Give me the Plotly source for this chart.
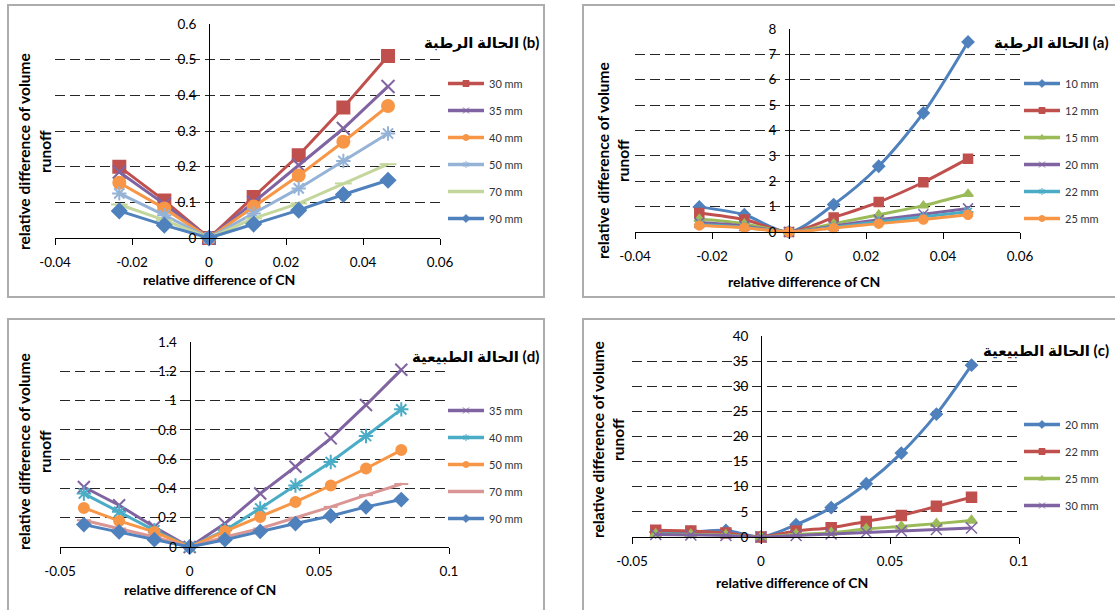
import plotly.graph_objects as go

# ---------------- data ----------------
# panel (b) wet condition
b_x = [-0.0233, -0.0116, 0, 0.0116, 0.0233, 0.0349, 0.0465]
b_names = ["30 mm", "35 mm", "40 mm", "50 mm", "70 mm", "90 mm"]
b_30 = [0.20, 0.105, 0, 0.115, 0.232, 0.366, 0.51]
b_35 = [0.185, 0.095, 0, 0.10, 0.204, 0.307, 0.425]
b_40 = [0.155, 0.083, 0, 0.088, 0.175, 0.27, 0.37]
b_50 = [0.125, 0.064, 0, 0.069, 0.139, 0.216, 0.293]
b_70 = [0.094, 0.05, 0, 0.055, 0.097, 0.153, 0.207]
b_90 = [0.076, 0.036, 0, 0.039, 0.078, 0.122, 0.162]

# panel (a) wet condition
a_x = [-0.0233, -0.0116, 0, 0.0116, 0.0233, 0.0349, 0.0465]
a_names = ["10 mm", "12 mm", "15 mm", "20 mm", "22 mm", "25 mm"]
a_10 = [0.99, 0.68, 0, 1.08, 2.59, 4.69, 7.49]
a_12 = [0.75, 0.49, 0, 0.57, 1.18, 1.96, 2.89]
a_15 = [0.51, 0.33, 0, 0.33, 0.68, 1.04, 1.5]
a_20 = [0.37, 0.24, 0, 0.24, 0.48, 0.7, 0.93]
a_22 = [0.3, 0.19, 0, 0.19, 0.4, 0.6, 0.8]
a_25 = [0.26, 0.17, 0, 0.16, 0.33, 0.49, 0.68]

# panel (d) natural condition
d_x = [-0.0408, -0.0272, -0.0136, 0, 0.0136, 0.0272, 0.0408, 0.0544, 0.068, 0.0816]
d_names = ["35 mm", "40 mm", "50 mm", "70 mm", "90 mm"]
d_35 = [0.41, 0.285, 0.137, 0, 0.16, 0.365, 0.548, 0.742, 0.97, 1.21]
d_40 = [0.365, 0.24, 0.114, 0, 0.114, 0.263, 0.42, 0.58, 0.758, 0.94]
d_50 = [0.267, 0.178, 0.103, 0, 0.107, 0.205, 0.308, 0.42, 0.536, 0.662]
d_70 = [0.183, 0.126, 0.068, 0, 0.068, 0.126, 0.2, 0.274, 0.354, 0.43]
d_90 = [0.153, 0.103, 0.05, 0, 0.05, 0.107, 0.16, 0.212, 0.274, 0.324]

# panel (c) natural condition
c_x = [-0.0408, -0.0272, -0.0136, 0, 0.0136, 0.0272, 0.0408, 0.0544, 0.068, 0.0816]
c_names = ["20 mm", "22 mm", "25 mm", "30 mm"]
c_20 = [1.0, 1.0, 1.3, 0, 2.46, 5.85, 10.6, 16.7, 24.45, 34.2]
c_22 = [1.33, 1.2, 0.8, 0, 1.2, 1.86, 3.1, 4.3, 6.1, 7.9]
c_25 = [0.6, 0.5, 0.4, 0, 0.53, 0.86, 1.6, 2.1, 2.66, 3.3]
c_30 = [0.5, 0.4, 0.3, 0, 0.3, 0.6, 0.9, 1.2, 1.5, 1.8]

# tick labels
bx_ticks = [-0.04, -0.02, 0, 0.02, 0.04, 0.06]
bx_text = ["-0.04", "-0.02", "0", "0.02", "0.04", "0.06"]
by_ticks = [0, 0.1, 0.2, 0.3, 0.4, 0.5, 0.6]
by_text = ["0", "0.1", "0.2", "0.3", "0.4", "0.5", "0.6"]
ay_ticks = [0, 1, 2, 3, 4, 5, 6, 7, 8]
ay_text = ["0", "1", "2", "3", "4", "5", "6", "7", "8"]
dx_ticks = [-0.05, 0, 0.05, 0.1]
dx_text = ["-0.05", "0", "0.05", "0.1"]
dy_ticks = [0, 0.2, 0.4, 0.6, 0.8, 1.0, 1.2, 1.4]
dy_text = ["0", "0.2", "0.4", "0.6", "0.8", "1", "1.2", "1.4"]
cy_ticks = [0, 5, 10, 15, 20, 25, 30, 35, 40]
cy_text = ["0", "5", "10", "15", "20", "25", "30", "35", "40"]

titles = ["الحالة الرطبة (b)", "الحالة الرطبة (a)", "الحالة الطبيعية (d)", "الحالة الطبيعية (c)"]
x_title = "relative difference of CN"
y_title1 = "relative difference of volume"
y_title2 = "runoff"

# ---------------- styling ----------------
W, H = 1115, 610
FONT = "Lato, 'DejaVu Sans', sans-serif"
BLUE, RED, GREEN, PURPLE, TEAL, ORANGE = "#4F81BD", "#C0504D", "#9BBB59", "#8064A2", "#4BACC6", "#F79646"
LBLUE, LGREEN, PINK = "#95B3D7", "#C3D69B", "#D99694"


def px_x(p):
    return p / W


def px_y(p):
    return 1 - p / H


# plot-area pixel boxes: (left, right, top, bottom)
boxes = {
    "1": (55, 440, 24, 238),
    "2": (635, 1020, 29, 232),
    "3": (60, 449, 342, 547),
    "4": (632, 1019, 336, 537),
}
ranges = {
    "1": ([-0.04, 0.06], [0, 0.6]),
    "2": ([-0.04, 0.06], [0, 8]),
    "3": ([-0.05, 0.1], [0, 1.4]),
    "4": ([-0.05, 0.1], [0, 40]),
}
ticks = {
    "1": (bx_ticks, bx_text, by_ticks, by_text),
    "2": (bx_ticks, bx_text, ay_ticks, ay_text),
    "3": (dx_ticks, dx_text, dy_ticks, dy_text),
    "4": (dx_ticks, dx_text, cy_ticks, cy_text),
}

fig = go.Figure()


def add(k, xs, ys, name, color, symbol, size, spline=False, mlw=1.5):
    sfx = "" if k == "1" else k
    fig.add_trace(go.Scatter(
        x=xs, y=ys, name=name, mode="lines+markers",
        xaxis="x" + sfx, yaxis="y" + sfx, showlegend=False,
        line=dict(color=color, width=3, shape="spline" if spline else "linear", smoothing=0.8),
        marker=dict(symbol=symbol, size=size, color=color, line=dict(color=color, width=mlw)),
        cliponaxis=False,
    ))
    # legend entry with a small marker, as in the original legend
    fig.add_trace(go.Scatter(
        x=[None], y=[None], name=name, mode="lines+markers",
        xaxis="x" + sfx, yaxis="y" + sfx, showlegend=True,
        legend="legend" + sfx, legendgroup=k + name,
        line=dict(color=color, width=3.5),
        marker=dict(symbol=symbol, size=6, color=color, line=dict(color=color, width=1)),
    ))


# panel b
b_series = [b_30, b_35, b_40, b_50, b_70, b_90]
b_style = [(RED, "square", 12), (PURPLE, "x-thin", 13), (ORANGE, "circle", 12),
           (LBLUE, "asterisk", 12), (LGREEN, "line-ew", 12), (BLUE, "diamond", 11)]
for ys, nm, (c, s, z) in zip(b_series, b_names, b_style):
    add("1", b_x, ys, nm, c, s, z, mlw=2)

# panel a
a_series = [a_10, a_12, a_15, a_20, a_22, a_25]
a_style = [(BLUE, "diamond", 9), (RED, "square", 9), (GREEN, "triangle-up", 9),
           (PURPLE, "x-thin", 10), (TEAL, "asterisk", 9), (ORANGE, "circle", 9)]
for ys, nm, (c, s, z) in zip(a_series, a_names, a_style):
    add("2", a_x, ys, nm, c, s, z, spline=True)

# panel d
d_series = [d_35, d_40, d_50, d_70, d_90]
d_style = [(PURPLE, "x-thin", 12), (TEAL, "asterisk", 12), (ORANGE, "circle", 10),
           (PINK, "line-ew", 10), (BLUE, "diamond", 10)]
for ys, nm, (c, s, z) in zip(d_series, d_names, d_style):
    add("3", d_x, ys, nm, c, s, z, mlw=2)

# panel c
c_series = [c_20, c_22, c_25, c_30]
c_style = [(BLUE, "diamond", 9), (RED, "square", 10), (GREEN, "triangle-up", 10), (PURPLE, "x-thin", 11)]
for ys, nm, (c, s, z) in zip(c_series, c_names, c_style):
    add("4", c_x, ys, nm, c, s, z, spline=True)

layout = dict(
    width=W, height=H, margin=dict(l=0, r=0, t=0, b=0, autoexpand=False),
    paper_bgcolor="white", plot_bgcolor="white",
    font=dict(family=FONT, size=13, color="#000000"),
    showlegend=True,
)

legend_pos = {"1": (443, 69), "2": (1019, 69), "3": (443, 396), "4": (1019, 410)}
annotations = []
for k in ["1", "2", "3", "4"]:
    sfx = "" if k == "1" else k
    l, r, t, b = boxes[k]
    xr, yr = ranges[k]
    xt, xtt, yt, ytt = ticks[k]
    xdom = [px_x(l), px_x(r)]
    ydom = [px_y(b), px_y(t)]
    ypos = xdom[0] + (0 - xr[0]) / (xr[1] - xr[0]) * (xdom[1] - xdom[0])
    layout["xaxis" + sfx] = dict(
        domain=xdom, range=xr, anchor="y" + sfx, showgrid=False, zeroline=False,
        showline=True, linecolor="#000000", linewidth=1, automargin=False,
        ticks="outside", ticklen=6, tickcolor="#000000", tickwidth=1,
        tickvals=xt, ticktext=xtt, tickfont=dict(size=13.5, color="#000000"),
        ticklabelstandoff=6,
    )
    layout["yaxis" + sfx] = dict(
        domain=ydom, range=yr, anchor="free", position=ypos, automargin=False,
        showgrid=True, gridcolor="#262626", gridwidth=1.4, griddash="10px,5px",
        zeroline=False, showline=True, linecolor="#000000", linewidth=1,
        ticks="", tickvals=yt, ticktext=ytt, tickfont=dict(size=13.5, color="#000000"),
        ticklabelstandoff=10,
    )
    lx, ly = legend_pos[k]
    layout["legend" + sfx] = dict(
        x=px_x(lx), y=px_y(ly), xanchor="left", yanchor="top",
        bgcolor="rgba(0,0,0,0)", font=dict(size=11, color="#333333", family=FONT),
        traceorder="grouped", tracegroupgap=8, itemwidth=36,
    )

# titles
title_pos = [(541, 42), (1111, 42), (541, 356), (1111, 350)]
for txt, (tx, ty) in zip(titles, title_pos):
    annotations.append(dict(
        text="<b>" + txt + "</b>", x=px_x(tx), y=px_y(ty), xref="paper", yref="paper",
        xanchor="right", yanchor="middle", showarrow=False,
        font=dict(size=15, family=FONT, color="#000000"),
    ))

# axis titles
xt_pos = [(219, 279), (804, 281), (200, 589), (792, 582)]
yt_pos = [(24, 45, 152), (603, 623, 161), (24, 45, 452), (598, 618, 440)]
for (tx, ty) in xt_pos:
    annotations.append(dict(
        text="<b>" + x_title + "</b>", x=px_x(tx), y=px_y(ty), xref="paper", yref="paper",
        xanchor="center", yanchor="middle", showarrow=False,
        font=dict(size=14, family=FONT, color="#000000"),
    ))
for (x1, x2, yc) in yt_pos:
    for txt, xx in ((y_title1, x1), (y_title2, x2)):
        annotations.append(dict(
            text="<b>" + txt + "</b>", x=px_x(xx), y=px_y(yc), xref="paper", yref="paper",
            xanchor="center", yanchor="middle", showarrow=False, textangle=-90,
            font=dict(size=15.5, family=FONT, color="#000000"),
        ))
layout["annotations"] = annotations

# panel frames
frames = [(8, 544, 5, 297), (583, 1116, 5, 297), (8, 544, 319, 612), (583, 1116, 319, 612)]
layout["shapes"] = [
    dict(type="rect", xref="paper", yref="paper",
         x0=px_x(x0), x1=px_x(x1), y0=px_y(y1), y1=px_y(y0),
         line=dict(color="#ADADAD", width=2), layer="below")
    for (x0, x1, y0, y1) in frames
]

fig.update_layout(**layout)
fig.write_html("out.html", config={"displayModeBar": False},
               post_script="document.body.style.margin='0px';")
